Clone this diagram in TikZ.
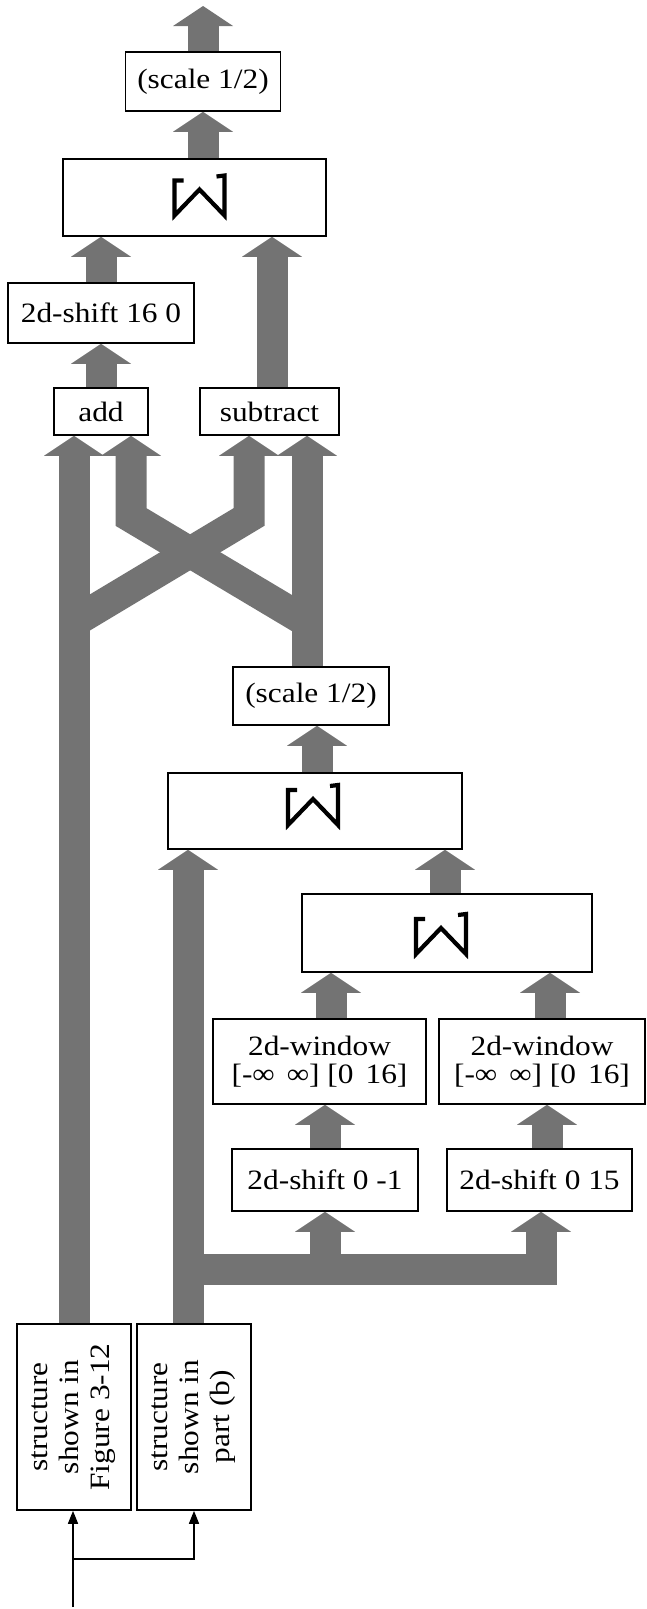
\documentclass[tikz,border=0pt]{standalone}
\usepackage{fontspec}
\setmainfont{Liberation Serif}[FakeStretch=1.12]
\usetikzlibrary{arrows.meta, calc}
\definecolor{flowgray}{gray}{0.45}

% wide shaded arrow going up at x=#1, from #2 to #3
\newcommand{\flowup}[3]{%
  \draw [flow] (#1,0 |- #2) -- (#1,0 |- #3);
  \pic at (#1,0 |- #3) {head};
}

\begin{document}
\begin{tikzpicture}[
    x=1pt, y=-1pt,
    box/.style={draw, line width=1.6pt, fill=white, inner sep=0pt, align=center, font=\fontsize{28}{31}\selectfont},
    flow/.style={draw=flowgray, line width=31pt, line join=miter, shorten >=19pt},
    feed/.style={draw, line width=1.6pt, -{Triangle[width=10pt, length=13pt]}},
    head/.pic={\fill [flowgray] (-30,20) -- (0,0) -- (30,20) -- cycle;},
    merge/.pic={\draw [line width=4.2pt, line join=miter] (-16,-15) -- (-25,-15) -- (-25,20) -- (0,-6) -- (25,20) -- (25,-20) -- (17,-19);}
]
    \useasboundingbox (0,0) rectangle (647,1609);

    \node [box, minimum width=155pt, minimum height=59pt] (scaleA) at (203,81.5) {(scale 1/2)};
    \node [box, minimum width=263pt, minimum height=77pt] (uA) at (194.5,197.5) {};
    \node [box, minimum width=186pt, minimum height=60pt] (shiftA) at (101,313) {2d-shift 16 0};
    \node [box, minimum width=94pt, minimum height=47pt] (add) at (101,411.5) {add};
    \node [box, minimum width=139pt, minimum height=47pt] (sub) at (269.5,411.5) {subtract};

    \node [box, minimum width=156pt, minimum height=58pt] (scaleB) at (311,696) {(scale 1/2)};
    \node [box, minimum width=294pt, minimum height=76pt] (uB) at (315,811) {};
    \node [box, minimum width=290pt, minimum height=78pt] (uC) at (447,933) {};

    \node [box, minimum width=213pt, minimum height=85pt] (winA) at (319.5,1061.5) {2d-window\\[-3pt]{}[-∞\hspace{12pt}∞] [0\hspace{12pt}16]};
    \node [box, minimum width=206pt, minimum height=85pt] (winB) at (542,1061.5) {2d-window\\[-3pt]{}[-∞\hspace{12pt}∞] [0\hspace{12pt}16]};
    \node [box, minimum width=186pt, minimum height=62pt] (shiftB) at (325,1180) {2d-shift 0 -1};
    \node [box, minimum width=185pt, minimum height=62pt] (shiftC) at (539.5,1180) {2d-shift 0 15};

    \node [box, rotate=90, minimum width=186pt, minimum height=114pt] (strA) at (74,1417) {structure\\shown in\\Figure 3-12};
    \node [box, rotate=90, minimum width=186pt, minimum height=114pt] (strB) at (194,1417) {structure\\shown in\\part (b)};

    \pic at ($(uA)+(5,-2)$) {merge};
    \pic at ($(uB)+(-2,-6)$) {merge};
    \pic at ($(uC)+(-6,1)$) {merge};

    \coordinate (out) at (203,6);
    \coordinate (jA) at (74,622);
    \coordinate (jB) at (307,622);
    \coordinate (jC) at (188,1269);
    \coordinate (in) at (73,1607);
    \coordinate (split) at (73,1559);

    % upper half
    \draw [flow] (203,0 |- scaleA.north) -- (out);
    \pic at (out) {head};
    \flowup{203}{uA.north}{scaleA.south}
    \flowup{101}{shiftA.north}{uA.south}
    \flowup{272}{sub.north}{uA.south}
    \flowup{101}{add.north}{shiftA.south}
    \flowup{74}{strA.east}{add.south}
    \flowup{307}{scaleB.north}{sub.south}
    \draw [flow] (jA) -- (249,517) -- (249,0 |- sub.south);
    \pic at (249,0 |- sub.south) {head};
    \draw [flow] (jB) -- (131,517) -- (131,0 |- add.south);
    \pic at (131,0 |- add.south) {head};

    % lower half
    \flowup{317}{uB.north}{scaleB.south}
    \flowup{188}{strB.east}{uB.south}
    \flowup{445}{uC.north}{uB.south}
    \flowup{331}{winA.north}{uC.south}
    \flowup{550}{winB.north}{uC.south}
    \flowup{325}{shiftB.north}{winA.south}
    \flowup{547}{shiftC.north}{winB.south}
    \draw [flow] (jC) -- (541,0 |- jC) -- (541,0 |- shiftC.south);
    \pic at (541,0 |- shiftC.south) {head};
    \flowup{325}{jC}{shiftB.south}

    \draw [feed] (in) -- (in |- strA.west);
    \draw [feed] (split) -| (strB.west);

\end{tikzpicture}
\end{document}
